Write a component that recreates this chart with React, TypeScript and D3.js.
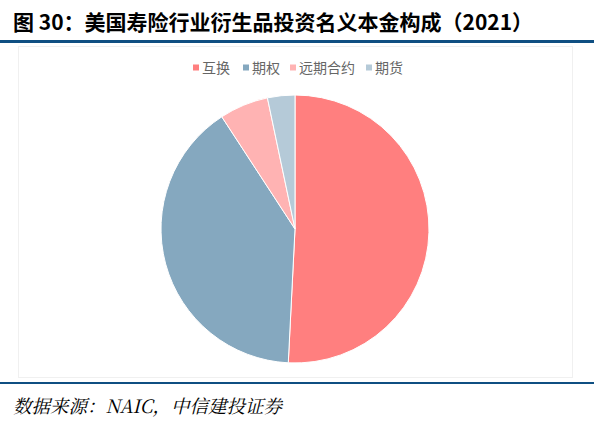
import { useEffect, useRef } from 'react';
import * as d3 from 'd3';

const categories = ['互换', '期权', '远期合约', '期货'];
const values = [50.8, 40.0, 5.9, 3.3];
const colors = ['#FF7F7F', '#85A8BF', '#FFB3B3', '#B5CAD8'];

const title = '图 30：美国寿险行业衍生品投资名义本金构成（2021）';
const source = '数据来源：NAIC，中信建投证券';

const App = () => {
  const ref = useRef<SVGSVGElement>(null);

  useEffect(() => {
    const svg = d3.select(ref.current);
    svg.selectAll('*').remove();

    // faint chart-area border
    svg
      .append('rect')
      .attr('x', 18.5)
      .attr('y', 46.5)
      .attr('width', 554)
      .attr('height', 331)
      .style('fill', 'none')
      .style('stroke', '#f0f0f0')
      .style('stroke-width', 1);

    // title
    svg
      .append('text')
      .attr('x', 13)
      .attr('y', 30)
      .style('font', 'bold 21px "Noto Sans CJK SC", sans-serif')
      .style('fill', '#000')
      .text(title);

    svg
      .append('rect')
      .attr('x', 0)
      .attr('y', 40)
      .attr('width', 594)
      .attr('height', 3)
      .style('fill', '#0F4F82');

    svg
      .append('rect')
      .attr('x', 0)
      .attr('y', 382)
      .attr('width', 594)
      .attr('height', 2)
      .style('fill', '#0F4F82');

    // legend
    const legendX = [193, 243, 290, 366];
    const legend = svg
      .append('g')
      .selectAll('g')
      .data(categories)
      .enter()
      .append('g')
      .attr('transform', (_d, i) => 'translate(' + legendX[i] + ',68)');
    legend
      .append('rect')
      .attr('x', 0)
      .attr('y', -3.5)
      .attr('width', 6)
      .attr('height', 6)
      .style('fill', (_d, i) => colors[i]);
    legend
      .append('text')
      .attr('x', 9)
      .attr('y', 5)
      .style('font', '14px "Noto Sans CJK SC", sans-serif')
      .style('fill', '#666')
      .text((d) => d);

    // pie
    const cx = 295;
    const cy = 229;
    const r = 134;
    const pie = d3.pie<number>().sort(null)(values);
    const arc = d3.arc<d3.PieArcDatum<number>>().innerRadius(0).outerRadius(r);
    svg
      .append('g')
      .attr('transform', 'translate(' + cx + ',' + cy + ')')
      .selectAll('path')
      .data(pie)
      .enter()
      .append('path')
      .attr('d', arc)
      .style('fill', (_d, i) => colors[i])
      .style('stroke', '#fff')
      .style('stroke-width', 1);

    // source
    svg
      .append('text')
      .attr('x', 13)
      .attr('y', 413)
      .style('font', 'italic 18.5px "Noto Serif CJK SC", "Noto Sans CJK SC", serif')
      .style('fill', '#000')
      .text(source);
  }, []);

  return (
    <svg
      ref={ref}
      width={594}
      height={424}
      style={{ position: 'absolute', left: 0, top: 0, background: '#fff' }}
    />
  );
};

export default App;
